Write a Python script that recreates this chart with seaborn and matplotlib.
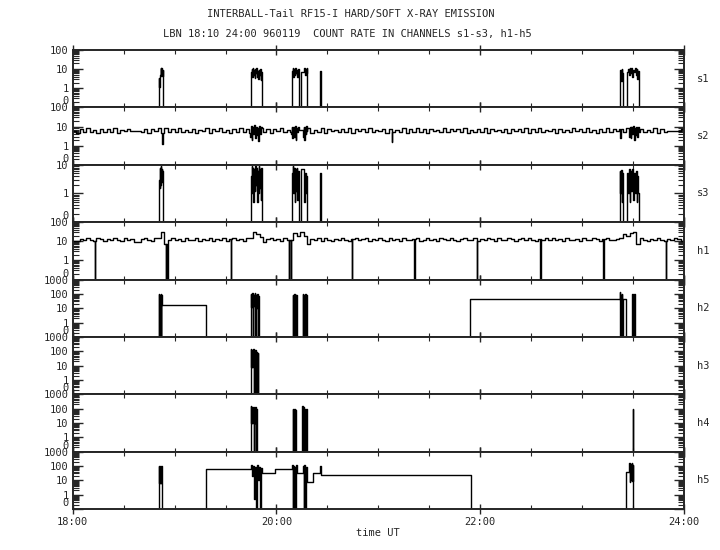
import numpy as np
import pandas as pd
import seaborn as sns
import matplotlib.pyplot as plt
from matplotlib import ticker

# time axis, hours UT
T0, T1 = 18.0, 24.0

channels = ['s1', 's2', 's3', 'h1', 'h2', 'h3', 'h4', 'h5']
y_tops = [100, 100, 10, 100, 1000, 1000, 1000, 1000]

x_ticks = [18, 20, 22, 24]
x_labels = ['18:00', '20:00', '22:00', '24:00']

# s2 background count rate, one value every 2 min from 18:00
s2_base = [6.0, 4.6, 7.8, 5.2, 8.1, 5.0, 6.9, 4.4, 7.6, 5.4,
           7.3, 5.1, 8.3, 4.7, 6.8, 5.9, 7.5, 6.0, 6.0, 6.0,
           5.3, 7.9, 4.5, 7.2, 5.6, 8.4, 4.8, 6.6, 5.0, 7.7,
           5.5, 8.2, 4.9, 7.0, 5.2, 7.9, 4.6, 6.8, 5.7, 8.0,
           4.7, 7.4, 5.8, 8.3, 5.0, 6.9, 4.5, 7.6, 5.4, 8.1,
           5.1, 7.2, 4.8, 7.8, 5.5, 8.2, 5.0, 7.1, 4.6, 7.5,
           5.6, 8.0, 4.9, 6.7, 5.3, 7.9, 4.7, 7.3, 5.8, 8.2,
           4.8, 7.0, 5.4, 8.1, 4.6, 7.6, 5.9, 6.9, 5.1, 7.8,
           5.3, 8.3, 4.7, 7.2, 5.6, 7.7, 4.9, 8.0, 5.2, 6.8,
           5.7, 7.5, 4.5, 7.9, 5.0, 6.6, 5.5, 8.2, 4.8, 7.4,
           5.4, 8.0, 5.0, 7.3, 4.6, 7.8, 5.7, 6.9, 5.2, 8.3,
           4.9, 7.1, 5.8, 7.7, 5.1, 8.1, 4.7, 7.0, 5.5, 7.6,
           5.2, 8.2, 4.6, 7.4, 5.9, 6.8, 5.0, 7.9, 4.8, 7.3,
           5.6, 7.7, 5.1, 8.0, 4.5, 7.2, 5.4, 8.3, 5.0, 6.9,
           5.8, 7.5, 4.7, 7.9, 5.3, 7.0, 4.9, 8.1, 5.6, 7.4,
           5.0, 8.0, 5.5, 6.8, 4.6, 7.7, 5.2, 8.2, 4.9, 7.1,
           5.7, 7.6, 5.0, 8.1, 4.8, 7.3, 5.4, 7.9, 5.1, 6.9,
           5.5, 8.0, 4.7, 7.4, 5.3, 5.8, 5.8, 5.8, 5.8, 7.2]

# h1 background count rate, one value every 2 min from 18:00
h1_base = [10.5, 10.5, 13, 11, 15, 12, 10, 14, 12.5, 10.5,
           13.5, 11, 15.5, 12, 10, 14, 11.5, 13, 9.5, 9.5,
           12.5, 14.5, 11, 10, 15, 14, 30, 7, 12, 14.5,
           11, 13.5, 10, 15, 12, 11, 14.5, 10.5, 13, 12,
           15, 10.5, 13, 11.5, 14, 10, 12.5, 15, 11, 13.5,
           10.5, 14, 15, 30, 24, 16, 9, 12.5, 14, 11,
           13, 10.5, 14.5, 12, 11, 26, 18, 30, 20, 7,
           13, 11.5, 14, 10, 15, 12, 10.5, 13.5, 11, 14.5,
           12, 10, 13.5, 15, 11, 12.5, 14, 10.5, 13, 11.5,
           15, 12, 10.5, 14, 11.5, 13, 10, 14.5, 12, 11,
           13.5, 15, 10.5, 12, 14, 11, 13, 10, 15, 12.5,
           11, 14, 12, 10.5, 13.5, 15, 11.5, 12, 14, 10,
           13, 11.5, 15, 12.5, 10.5, 14, 12, 11, 14.5, 13,
           10.5, 12.5, 14, 11, 15, 12, 10, 13.5, 11.5, 14,
           12, 15, 11, 13, 10.5, 14.5, 12, 11.5, 13.5, 10,
           14, 12, 11, 15, 12.5, 10.5, 13, 14, 11.5, 12,
           13, 15, 24, 19, 28, 32, 7, 14, 12, 10.5,
           13.5, 11, 14.5, 12, 10, 13, 11.5, 14, 12.5, 10.5]

# bursts / steps: (start h, end h, values spread over the interval)
s1_events = [
    (18.845, 18.885, [1.0, 3.5, 1.2, 4, 5, 11, 4.5, 12, 6, 10, 4.2, 9]),
    (19.749, 19.857, [7, 10, 4, 11, 5, 9, 3.5, 10, 6, 12, 4, 8, 3, 9, 5, 10, 2.8, 7]),
    (20.151, 20.220, [8, 12, 4, 10, 5, 11, 6, 9, 4, 10]),
    (20.240, 20.270, [7]),
    (20.270, 20.300, [8, 12, 5, 10, 6, 11]),
    (20.430, 20.437, [8]),
    (23.370, 23.400, [5, 9, 2.5, 10, 6]),
    (23.440, 23.560, [7, 10, 5, 11, 6, 12, 4, 9, 7, 11, 5, 10, 3, 8]),
]

s2_events = [
    (18.880, 18.887, [1.2]),
    (18.900, 18.935, [8.5]),
    (19.738, 19.856, [3, 11, 2, 9, 4, 12, 2.5, 10, 3.5, 8, 1.8, 11, 4, 9]),
    (20.141, 20.219, [4, 10, 2.5, 9, 3, 11, 2, 8, 5, 10]),
    (20.219, 20.259, [6.5]),
    (20.259, 20.298, [3, 10, 2, 9, 4, 11]),
    (21.130, 21.137, [1.5]),
    (23.370, 23.377, [2.5]),
    (23.440, 23.460, [8]),
    (23.460, 23.558, [3, 10, 2.5, 9, 4, 11, 2, 8, 3.5, 10, 2.8, 9]),
]

s3_events = [
    (18.845, 18.885, [1.5, 3, 1.6, 8, 2, 9, 3, 7, 2.5, 6]),
    (19.749, 19.857, [4, 9, 1, 8, 0.5, 7, 1.2, 9, 2, 8, 0.5, 6, 1, 9, 1.5, 7, 0.6, 8]),
    (20.151, 20.220, [5, 9, 1, 8, 0.5, 7, 1.2, 8, 0.6, 6]),
    (20.240, 20.270, [7]),
    (20.270, 20.300, [6, 0.5, 5, 1, 4, 0.6]),
    (20.430, 20.437, [5]),
    (23.370, 23.400, [6, 1, 6.5, 0.5, 5]),
    (23.440, 23.560, [5, 1, 7, 0.5, 6, 1.2, 7, 0.6, 5, 1, 6, 0.5, 4, 1]),
]

h1_drops = [18.216, 18.913, 18.929, 19.549, 20.121, 20.138,
            20.737, 21.352, 21.967, 22.589, 23.208, 23.820]
h1_events = [(t, t + 0.005, [0]) for t in h1_drops]

h2_events = [
    (18.845, 18.875, [100, 0, 90, 0, 100, 0, 80]),
    (18.875, 19.306, [17]),
    (19.748, 19.827, [100, 12, 120, 0, 80, 15, 110, 0, 90, 10, 100, 0, 70]),
    (20.160, 20.200, [90, 0, 100, 0, 85, 0, 90]),
    (20.259, 20.298, [100, 0, 90, 0, 100, 0, 80]),
    (21.899, 23.372, [45]),
    (23.372, 23.398, [130, 0, 90, 0, 100, 0]),
    (23.398, 23.430, [45]),
    (23.490, 23.520, [100, 0, 90, 0, 100]),
]

h3_events = [
    (19.748, 19.820, [150, 8, 120, 8, 140, 0, 100, 0, 130, 0, 90, 0, 80]),
]

h4_events = [
    (19.748, 19.807, [150, 10, 120, 10, 140, 0, 110, 10, 130, 0, 90]),
    (20.160, 20.190, [100, 0, 90, 0, 100, 0, 80]),
    (20.249, 20.295, [150, 0, 120, 0, 100, 0, 90]),
    (23.495, 23.500, [100]),
]

h5_events = [
    (18.845, 18.875, [100, 7, 100, 7, 90, 7, 100]),
    (19.306, 19.748, [66]),
    (19.748, 19.856, [120, 20, 100, 30, 0.5, 80, 0, 110, 10, 90, 0, 70]),
    (19.856, 19.984, [35]),
    (19.984, 20.151, [66]),
    (20.151, 20.200, [120, 0, 100, 0, 90, 0, 110]),
    (20.200, 20.259, [35]),
    (20.259, 20.298, [100, 0, 120, 0, 90]),
    (20.298, 20.357, [8]),
    (20.357, 20.426, [35]),
    (20.426, 20.433, [100]),
    (20.433, 21.909, [25]),
    (23.430, 23.460, [40]),
    (23.460, 23.510, [150, 8, 130, 10, 160, 9, 120, 0]),
]

all_events = [s1_events, s2_events, s3_events, h1_events,
              h2_events, h3_events, h4_events, h5_events]
all_bases = [None, s2_base, None, h1_base, None, None, None, None]


def build_trace(events, base=None):
    # step trace: background samples, replaced inside the event intervals
    pts = []
    if base is not None:
        step = (T1 - T0) / len(base)
        for i, v in enumerate(base):
            t = T0 + i * step
            if not any(a <= t < b for a, b, _ in events):
                pts.append((t, v))
    else:
        pts.append((T0, 0.0))

    def base_at(t):
        if base is None:
            return 0.0
        return base[min(int((t - T0) / step), len(base) - 1)]

    for a, b, vals in events:
        for k, v in enumerate(vals):
            pts.append((a + (b - a) * k / len(vals), v))
        if not any(a2 <= b < b2 for a2, b2, _ in events):
            pts.append((b, base_at(b)))
    pts.sort()
    pts.append((T1, pts[-1][1]))
    df = pd.DataFrame(pts, columns=['t', 'v'])
    # zero counts go below the axis floor (labelled "0")
    df['v'] = np.where(df['v'] <= 0, 0.02, df['v'])
    return df


sns.set_style('ticks')
plt.rcParams['font.family'] = ['DejaVu Sans Mono']
plt.rcParams['axes.linewidth'] = 1.4

fig, axes = plt.subplots(8, 1, sharex=True, figsize=(7.2, 5.5), dpi=100)
fig.subplots_adjust(left=0.101, right=0.95, top=0.909, bottom=0.0745, hspace=0)

for ax, name, top, events, base in zip(axes, channels, y_tops, all_events, all_bases):
    df = build_trace(events, base)
    sns.lineplot(data=df, x='t', y='v', ax=ax, color='black', lw=1.0,
                 drawstyle='steps-post', estimator=None, sort=False, legend=False)
    ax.set_yscale('log')
    ax.set_ylim(0.1, top)
    ax.set_xlim(T0, T1)

    yt = [0.1] + [10 ** k for k in range(0, int(round(np.log10(top))) + 1)]
    ax.yaxis.set_major_locator(ticker.FixedLocator(yt))
    ax.yaxis.set_major_formatter(ticker.FixedFormatter([''] + [str(int(v)) for v in yt[1:]]))
    ax.yaxis.set_minor_locator(ticker.LogLocator(base=10, subs=np.arange(2, 10), numticks=20))
    ax.yaxis.set_minor_formatter(ticker.NullFormatter())
    # the "0" label sits a little above the floor, as in the original plot
    ax.annotate('0', xy=(0, 0), xycoords='axes fraction', xytext=(-3, 4.3),
                textcoords='offset points', ha='right', va='center', fontsize=7.5)

    ax.xaxis.set_major_locator(ticker.FixedLocator(x_ticks))
    ax.xaxis.set_minor_locator(ticker.MultipleLocator(0.5))

    ax.tick_params(axis='y', which='major', direction='in', length=7.5, width=1.0,
                   left=True, right=True, labelsize=7.5, pad=3)
    ax.tick_params(axis='y', which='minor', direction='in', length=4, width=0.8,
                   left=True, right=True)
    ax.tick_params(axis='x', which='major', direction='inout', length=7, width=1.0,
                   top=True, bottom=True, pad=2)
    ax.tick_params(axis='x', which='minor', direction='in', length=3, width=0.8,
                   top=True, bottom=True)
    ax.set_ylabel('')
    ax.set_xlabel('')
    ax.text(1.021, 0.5, name, transform=ax.transAxes, ha='left', va='center', fontsize=7.5)

axes[-1].set_xticks(x_ticks)
axes[-1].set_xticklabels(x_labels, fontsize=7.5)
axes[-1].set_xlabel('time UT', fontsize=7.5, labelpad=1)

fig.text(0.487, 0.974, 'INTERBALL-Tail RF15-I HARD/SOFT X-RAY EMISSION',
         ha='center', va='center', fontsize=7.5)
fig.text(0.482, 0.938, 'LBN 18:10 24:00 960119  COUNT RATE IN CHANNELS s1-s3, h1-h5',
         ha='center', va='center', fontsize=7.5)

fig.savefig('out.png', dpi=100, facecolor='white')
